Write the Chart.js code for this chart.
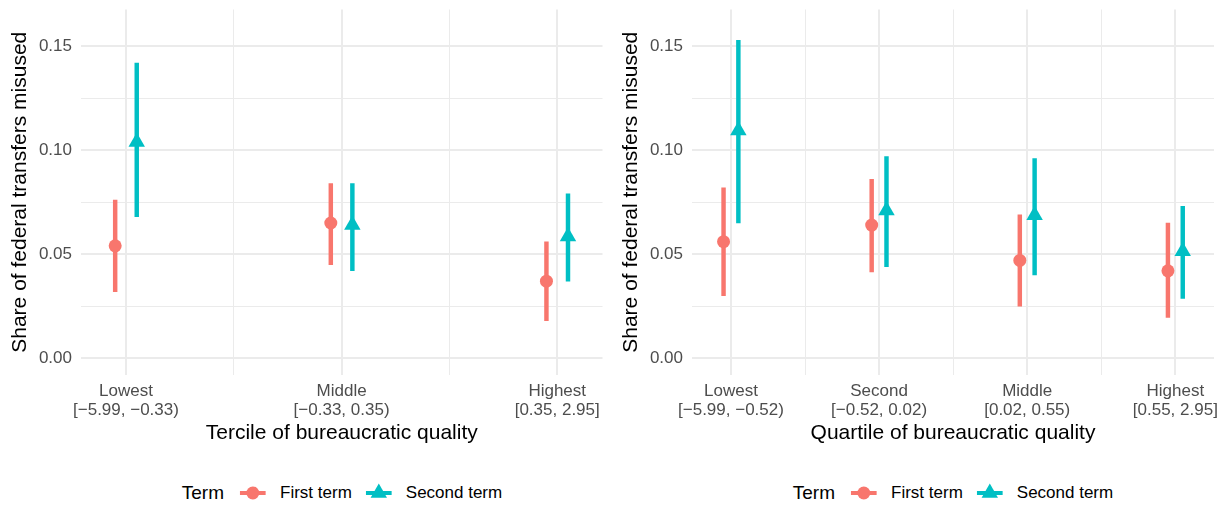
<!DOCTYPE html>
<html>
<head>
<meta charset="utf-8">
<script src="https://cdn.jsdelivr.net/npm/chart.js@4"></script>
<style>
  body { margin: 0; width: 1225px; height: 506px; background: #fff; position: relative; overflow: hidden;
         font-family: 'Liberation Sans', Arial, sans-serif; }
  canvas { position: absolute; top: 0; }
  .legend { position: absolute; top: 480px; height: 26px; display: flex; align-items: center;
            transform: translateX(-50%); white-space: nowrap; color: #000; }
  .legend .ltitle { font-size: 19px; margin-right: 16px; }
  .legend span { font-size: 17px; }
  .legend svg { margin-right: 14px; }
  .legend .gap { margin-right: 14px; }
</style>
</head>
<body>
<canvas id="tercileChart" width="612" height="450" style="left:0"></canvas>
<canvas id="quartileChart" width="614" height="450" style="left:611px"></canvas>

<div class="legend" style="left:342px">
  <span class="ltitle">Term</span>
  <svg width="26" height="20"><line x1="0" y1="10" x2="26" y2="10" stroke="#F8766D" stroke-width="4"/><circle cx="13" cy="10" r="6.5" fill="#F8766D"/></svg>
  <span class="gap">First term</span>
  <svg width="26" height="20"><line x1="0" y1="10" x2="26" y2="10" stroke="#00BFC4" stroke-width="4"/><polygon points="13,0.5 4.8,14.8 21.2,14.8" fill="#00BFC4"/></svg>
  <span>Second term</span>
</div>
<div class="legend" style="left:953px">
  <span class="ltitle">Term</span>
  <svg width="26" height="20"><line x1="0" y1="10" x2="26" y2="10" stroke="#F8766D" stroke-width="4"/><circle cx="13" cy="10" r="6.5" fill="#F8766D"/></svg>
  <span class="gap">First term</span>
  <svg width="26" height="20"><line x1="0" y1="10" x2="26" y2="10" stroke="#00BFC4" stroke-width="4"/><polygon points="13,0.5 4.8,14.8 21.2,14.8" fill="#00BFC4"/></svg>
  <span>Second term</span>
</div>

<script>
// Data
const tercileLabels = [['Lowest', '[\u22125.99, \u22120.33)'], ['Middle', '[\u22120.33, 0.35)'], ['Highest', '[0.35, 2.95]']];
const tercileFirstEst  = [0.054, 0.065, 0.037];
const tercileFirstLow  = [0.032, 0.045, 0.018];
const tercileFirstHigh = [0.076, 0.084, 0.056];
const tercileSecondEst  = [0.104, 0.064, 0.0585];
const tercileSecondLow  = [0.068, 0.042, 0.037];
const tercileSecondHigh = [0.142, 0.084, 0.079];

const quartileLabels = [['Lowest', '[\u22125.99, \u22120.52)'], ['Second', '[\u22120.52, 0.02)'], ['Middle', '[0.02, 0.55)'], ['Highest', '[0.55, 2.95]']];
const quartileFirstEst  = [0.056, 0.064, 0.047, 0.042];
const quartileFirstLow  = [0.030, 0.0415, 0.025, 0.0196];
const quartileFirstHigh = [0.082, 0.086, 0.069, 0.065];
const quartileSecondEst  = [0.1095, 0.071, 0.0688, 0.0514];
const quartileSecondLow  = [0.065, 0.044, 0.040, 0.0287];
const quartileSecondHigh = [0.153, 0.097, 0.096, 0.073];

const yTickValues = [0, 0.025, 0.05, 0.075, 0.1, 0.125, 0.15];
const yTickLabels = ['0.00', '', '0.05', '', '0.10', '', '0.15'];

const RED = '#F8766D';
const TEAL = '#00BFC4';
const GRID = '#EBEBEB';
const DODGE = 0.05;

Chart.defaults.font.family = "'Liberation Sans', Arial, sans-serif";
Chart.defaults.animation = false;

function makePanel(id, labels, fEst, fLow, fHigh, sEst, sLow, sHigh, xMin, xMax, xTitle, rightPad) {
    const xTicks = [];
    for (let i = 1; i <= labels.length; i++) {
        xTicks.push(i);
        if (i < labels.length) xTicks.push(i + 0.5);
    }
    const pos = (i, d) => i + 1 + d;

    new Chart(document.getElementById(id), {
        type: 'scatter',
        data: {
            datasets: [
                {
                    label: 'First term',
                    data: fEst.map((v, i) => ({ x: pos(i, -DODGE), y: v })),
                    backgroundColor: RED,
                    pointStyle: 'circle',
                    pointRadius: 6.5,
                    pointBorderWidth: 0,
                    order: 0
                },
                {
                    label: 'Second term',
                    data: sEst.map((v, i) => ({ x: pos(i, DODGE), y: v })),
                    backgroundColor: TEAL,
                    pointStyle: 'triangle',
                    pointRadius: 9.5,
                    pointBorderWidth: 0,
                    order: 0
                },
                {
                    type: 'bar',
                    data: fLow.map((v, i) => ({ x: pos(i, -DODGE), y: [v, fHigh[i]] })),
                    backgroundColor: RED,
                    barThickness: 3.8,
                    grouped: false,
                    order: 1
                },
                {
                    type: 'bar',
                    data: sLow.map((v, i) => ({ x: pos(i, DODGE), y: [v, sHigh[i]] })),
                    backgroundColor: TEAL,
                    barThickness: 3.8,
                    grouped: false,
                    order: 1
                }
            ]
        },
        options: {
            responsive: false,
            devicePixelRatio: 1,
            layout: { padding: { left: 0, top: 9, right: rightPad, bottom: 0 } },
            plugins: { legend: { display: false }, tooltip: { enabled: false } },
            scales: {
                x: {
                    type: 'linear',
                    min: xMin,
                    max: xMax,
                    bounds: 'data',
                    offset: false,
                    border: { display: false },
                    grid: {
                        offset: false,
                        drawTicks: false,
                        color: GRID,
                        lineWidth: ctx => Number.isInteger(ctx.tick.value) ? 2 : 1
                    },
                    afterBuildTicks: axis => { axis.ticks = xTicks.map(v => ({ value: v })); },
                    afterFit: axis => {
                        axis.height = 75;
                        axis.paddingLeft = 0;
                        axis.paddingRight = 0;
                    },
                    ticks: {
                        autoSkip: false,
                        maxRotation: 0,
                        padding: 7,
                        color: '#4D4D4D',
                        font: { size: 17, lineHeight: 1.1 },
                        callback: v => Number.isInteger(v) ? labels[v - 1] : ''
                    },
                    title: {
                        display: true,
                        text: xTitle,
                        color: '#000',
                        font: { size: 21, lineHeight: 1.2 },
                        padding: { top: 0, bottom: 4 }
                    }
                },
                y: {
                    type: 'linear',
                    min: -0.00817,
                    max: 0.1678,
                    bounds: 'data',
                    border: { display: false },
                    grid: {
                        drawTicks: false,
                        color: GRID,
                        lineWidth: ctx => yTickLabels[ctx.index] ? 2 : 1
                    },
                    afterBuildTicks: axis => { axis.ticks = yTickValues.map(v => ({ value: v })); },
                    afterFit: axis => {
                        axis.width = 81;
                        axis.paddingTop = 0;
                        axis.paddingBottom = 0;
                    },
                    ticks: {
                        autoSkip: false,
                        padding: 9,
                        color: '#4D4D4D',
                        font: { size: 17 },
                        callback: (v, i) => yTickLabels[i]
                    },
                    title: {
                        display: true,
                        text: 'Share of federal transfers misused',
                        color: '#000',
                        font: { size: 21, lineHeight: 1.2 },
                        padding: { top: 7.4, bottom: 0 }
                    }
                }
            }
        }
    });
}

makePanel('tercileChart', tercileLabels,
    tercileFirstEst, tercileFirstLow, tercileFirstHigh,
    tercileSecondEst, tercileSecondLow, tercileSecondHigh,
    0.7915, 3.21, 'Tercile of bureaucratic quality', 9);

makePanel('quartileChart', quartileLabels,
    quartileFirstEst, quartileFirstLow, quartileFirstHigh,
    quartileSecondEst, quartileSecondLow, quartileSecondHigh,
    0.737, 4.261, 'Quartile of bureaucratic quality', 11);
</script>
</body>
</html>
